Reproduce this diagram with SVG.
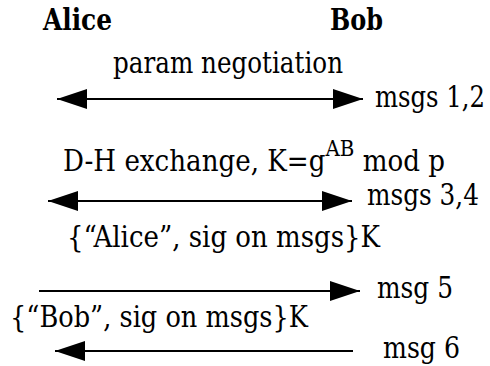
<svg xmlns="http://www.w3.org/2000/svg" width="490" height="366" viewBox="0 0 490 366">
  <style>
    text { font-family: "DejaVu Serif", "Liberation Serif", serif; font-size: 29px; fill: #000; }
    .party { font-weight: bold; }
    .sup { font-size: 22px; }
    .msg { stroke: #000; stroke-width: 2; fill: none; }
  </style>
  <defs>
    <marker id="head" markerUnits="userSpaceOnUse" markerWidth="30" markerHeight="20" refX="30" refY="10" orient="auto-start-reverse" viewBox="0 0 30 20">
      <path d="M0,0 L30,10 L0,20 Z" fill="#000"/>
    </marker>
  </defs>

  <!-- parties -->
  <g id="alice"><text class="party" x="43" y="29.5" textLength="69" lengthAdjust="spacingAndGlyphs">Alice</text></g>
  <g id="bob"><text class="party" x="330" y="29.5" textLength="53" lengthAdjust="spacingAndGlyphs">Bob</text></g>

  <!-- message arrows -->
  <g id="connectors">
    <line class="msg" x1="57" y1="99" x2="363" y2="99" marker-start="url(#head)" marker-end="url(#head)"/>
    <line class="msg" x1="48" y1="201" x2="352" y2="201" marker-start="url(#head)" marker-end="url(#head)"/>
    <line class="msg" x1="39" y1="291" x2="360" y2="291" marker-end="url(#head)"/>
    <line class="msg" x1="353" y1="351" x2="55" y2="351" marker-end="url(#head)"/>
  </g>

  <!-- labels -->
  <g id="labels">
    <text x="113" y="73" textLength="230" lengthAdjust="spacingAndGlyphs">param negotiation</text>
    <text x="375" y="107" textLength="110" lengthAdjust="spacingAndGlyphs">msgs 1,2</text>
    <text x="63" y="171" textLength="382" lengthAdjust="spacingAndGlyphs">D-H exchange, K=g<tspan class="sup" dy="-15">AB</tspan><tspan dy="15"> mod p</tspan></text>
    <text x="367" y="205" textLength="112" lengthAdjust="spacingAndGlyphs">msgs 3,4</text>
    <text x="67" y="247" textLength="313" lengthAdjust="spacingAndGlyphs">{“Alice”, sig on msgs}K</text>
    <text x="377" y="298" textLength="76" lengthAdjust="spacingAndGlyphs">msg 5</text>
    <text x="10" y="327" textLength="298" lengthAdjust="spacingAndGlyphs">{“Bob”, sig on msgs}K</text>
    <text x="383" y="358" textLength="77" lengthAdjust="spacingAndGlyphs">msg 6</text>
  </g>
</svg>
